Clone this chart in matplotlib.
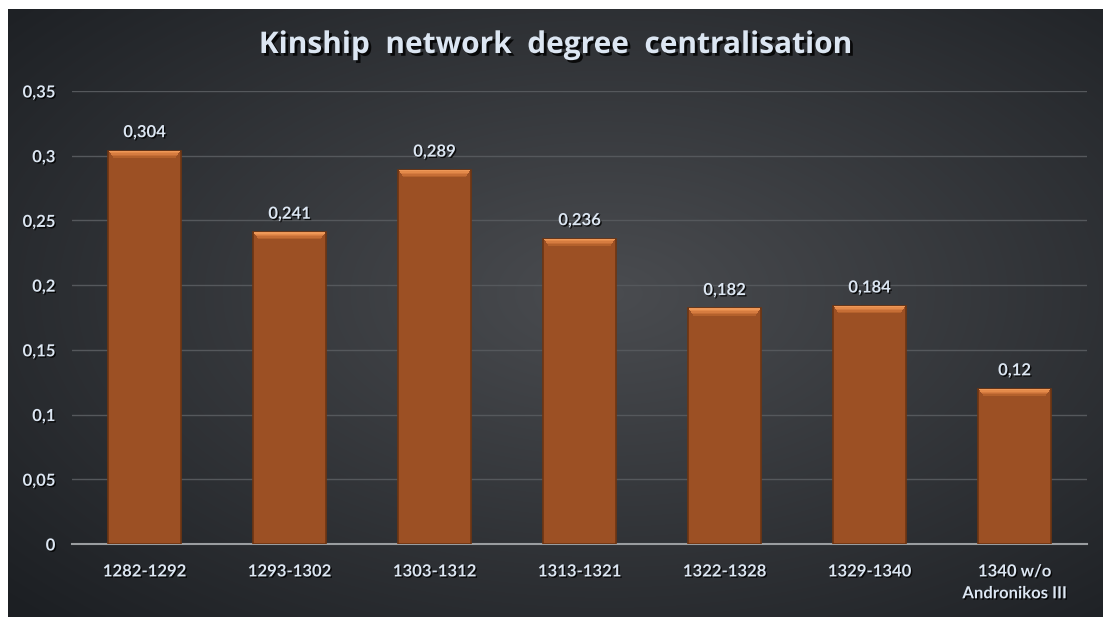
import numpy as np
import matplotlib
matplotlib.use("Agg")
import matplotlib.pyplot as plt
import matplotlib.patheffects as pe

# data
periods = ["1282-1292", "1293-1302", "1303-1312", "1313-1321",
           "1322-1328", "1329-1340", "1340 w/o\nAndronikos III"]
centralisation = [0.304, 0.241, 0.289, 0.236, 0.182, 0.184, 0.12]
value_labels = ["0,304", "0,241", "0,289", "0,236", "0,182", "0,184", "0,12"]
yticks = [0, 0.05, 0.1, 0.15, 0.2, 0.25, 0.3, 0.35]
ytick_labels = ["0", "0,05", "0,1", "0,15", "0,2", "0,25", "0,3", "0,35"]

W, H = 1103, 617
fig = plt.figure(figsize=(W / 100, H / 100), dpi=100)
fig.patch.set_facecolor("white")

# dark radial gradient background (white strip left and top)
bg = fig.add_axes([8 / W, 0, 1 - 8 / W, 1 - 9 / H])
yy, xx = np.mgrid[0:300, 0:550]
cx, cy = 300, 140
r = np.sqrt(((xx - cx) / 550.0) ** 2 + ((yy - cy) / 300.0) ** 2)
r = np.clip(r / 0.75, 0, 1)
inner = np.array([0x4a, 0x4c, 0x50]) / 255.0
outer = np.array([0x1c, 0x1f, 0x23]) / 255.0
img = inner[None, None, :] * (1 - r[..., None]) + outer[None, None, :] * r[..., None]
bg.imshow(img, aspect="auto", interpolation="bilinear")
bg.axis("off")

ax = fig.add_axes([72 / W, 1 - 544 / H, (1087 - 72) / W, (544 - 91) / H])
ax.set_facecolor("none")
ax.set_zorder(2)

txt_col = "#dce6f2"
shadow = [pe.withSimplePatchShadow(offset=(1, -1), shadow_rgbFace="black", alpha=0.8)]

x = np.arange(len(periods))
bar_w = 0.5
ax.bar(x, centralisation, width=bar_w, color="#9c5024", edgecolor="#6e3512",
       linewidth=1.2, zorder=3)
# bevel highlight at the top of each bar, light on top fading down
tops = np.array(centralisation)
bevel_cols = ["#b4612c", "#c66e36", "#d67c40", "#e48a4a", "#ee9858"]
n = len(bevel_cols)
step = 0.0011
for i, c in enumerate(bevel_cols):
    h = step * (n - i)
    ax.bar(x, [step] * len(x), bottom=tops - h, width=bar_w * (0.9 + 0.1 * i / (n - 1)) - 0.01,
           color=c, linewidth=0, zorder=4)

for xi, v, lab in zip(x, centralisation, value_labels):
    ax.text(xi, v + 0.008, lab, ha="center", va="bottom", color=txt_col,
            fontsize=12, fontweight="bold", family="Lato", path_effects=shadow, zorder=5)

ax.set_xlim(-0.5, len(periods) - 0.5)
ax.set_ylim(0, 0.35)
ax.set_yticks(yticks)
ax.set_yticklabels(ytick_labels)
ax.set_xticks(x)
ax.set_xticklabels(periods)
for lab in ax.get_xticklabels() + ax.get_yticklabels():
    lab.set_color(txt_col)
    lab.set_fontweight("bold")
    lab.set_fontsize(12)
    lab.set_family("Lato")
    lab.set_path_effects(shadow)
ax.tick_params(length=0)
ax.tick_params(axis="y", pad=12)
ax.tick_params(axis="x", pad=14)
for lab in ax.get_xticklabels():
    lab.set_linespacing(1.45)

ax.grid(axis="y", color="#55585c", linewidth=1)
ax.set_axisbelow(True)
for s in ["top", "right", "left"]:
    ax.spines[s].set_visible(False)
ax.spines["bottom"].set_color("#9a9da0")
ax.spines["bottom"].set_linewidth(1.5)

fig.text(556 / W, 1 - 45 / H, "Kinship  network  degree  centralisation",
         ha="center", va="center", color=txt_col, fontsize=21.5, fontweight="bold",
         family="Open Sans", path_effects=[pe.withSimplePatchShadow(offset=(2, -2), shadow_rgbFace="black", alpha=0.8)])

fig.savefig("out.png", dpi=100)
